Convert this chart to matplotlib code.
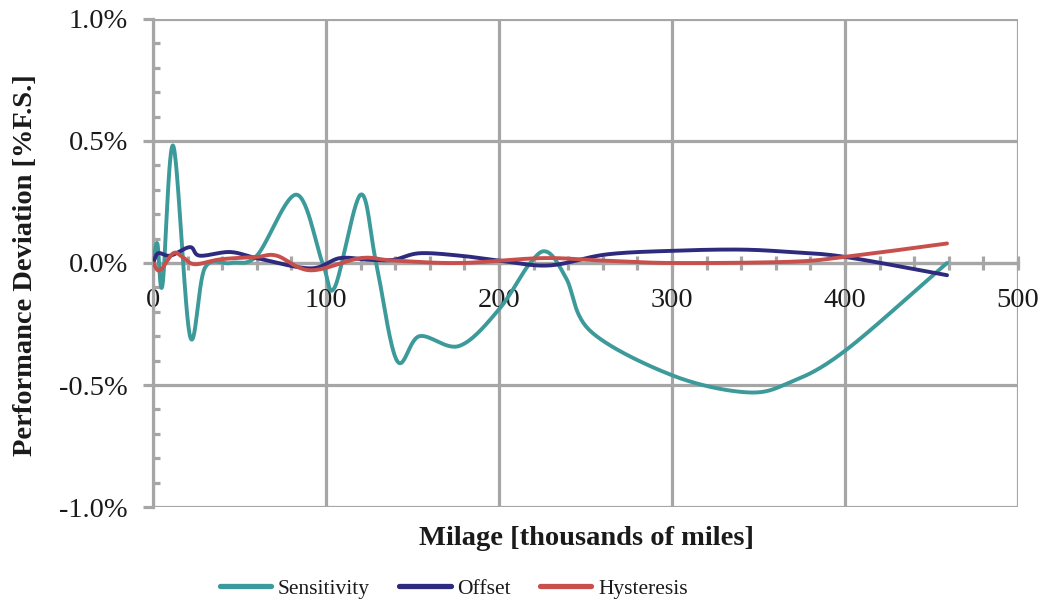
import numpy as np
import matplotlib
matplotlib.use("Agg")
import matplotlib.pyplot as plt
from matplotlib.ticker import MultipleLocator, FuncFormatter

# ---- data (mileage in thousands of miles, deviation in %F.S.) ----
sens_x = [0, 2.5, 5.5, 11.7, 21.4, 30, 45, 60, 83, 98, 105, 120, 129, 141, 154, 177, 200, 218, 228, 239, 253, 300, 343, 368, 400, 459]
sens_y = [0, 0.08, -0.09, 0.48, -0.30, -0.02, 0.0, 0.03, 0.28, 0.0, -0.10, 0.28, 0.0, -0.40, -0.30, -0.34, -0.19, 0.0, 0.045, -0.065, -0.28, -0.46, -0.53, -0.49, -0.36, 0.0]

off_x = [0, 3, 10, 21.4, 27, 44.5, 60, 91, 108, 125, 139, 154, 177.5, 200, 229, 262, 300, 339, 368, 400, 459]
off_y = [0, 0.04, 0.03, 0.065, 0.03, 0.045, 0.02, -0.022, 0.02, 0.013, 0.013, 0.04, 0.03, 0.01, -0.01, 0.035, 0.05, 0.055, 0.045, 0.025, -0.05]

hys_x = [0, 4, 11.7, 17, 24, 39, 60, 71.5, 91, 120, 139, 177.5, 225, 260, 300, 368, 400, 459]
hys_y = [0, -0.03, 0.04, 0.025, -0.005, 0.015, 0.025, 0.03, -0.03, 0.02, 0.01, 0.0, 0.02, 0.01, 0.0, 0.005, 0.025, 0.08]

series_names = ["Sensitivity", "Offset", "Hysteresis"]
series_colors = ["#3c9a9a", "#2e2a7e", "#c8504c"]

x_ticks = [0, 100, 200, 300, 400, 500]
y_ticks = [-1.0, -0.5, 0.0, 0.5, 1.0]


def smooth(x, y, n=30):
    """Excel-like smoothed line rendering (Catmull-Rom through the points)."""
    x = np.asarray(x, float)
    y = np.asarray(y, float)
    px = np.concatenate([[2 * x[0] - x[1]], x, [2 * x[-1] - x[-2]]])
    py = np.concatenate([[2 * y[0] - y[1]], y, [2 * y[-1] - y[-2]]])
    t = np.linspace(0, 1, n, endpoint=False)
    h00 = 2 * t**3 - 3 * t**2 + 1
    h10 = t**3 - 2 * t**2 + t
    h01 = -2 * t**3 + 3 * t**2
    h11 = t**3 - t**2
    ox, oy = [], []
    for i in range(1, len(px) - 2):
        for arr, out in ((px, ox), (py, oy)):
            p0, p1, p2, p3 = arr[i - 1], arr[i], arr[i + 1], arr[i + 2]
            m1 = (p2 - p0) / 2
            m2 = (p3 - p1) / 2
            out.extend(h00 * p1 + h10 * m1 + h01 * p2 + h11 * m2)
    ox.append(x[-1])
    oy.append(y[-1])
    return np.array(ox), np.array(oy)


plt.rcParams['font.family'] = ['Liberation Serif', 'DejaVu Serif']

fig = plt.figure(figsize=(10.43, 6.03), dpi=100)
ax = fig.add_axes([0.1467, 0.1592, 0.976 - 0.1467, 0.9685 - 0.1592])

grid_c = "#a6a6a6"
lw_grid = 2.3
txt_c = "#1a1a1a"

for (sx, sy), name, c in zip([(sens_x, sens_y), (off_x, off_y), (hys_x, hys_y)], series_names, series_colors):
    xs, ys = smooth(sx, sy)
    ax.plot(xs, ys, color=c, lw=2.8, label=name, solid_capstyle='round', zorder=3)

ax.set_xlim(0, 500)
ax.set_ylim(-1.0, 1.0)
ax.set_xticks(x_ticks)
ax.set_yticks(y_ticks)
ax.xaxis.set_minor_locator(MultipleLocator(20))
ax.yaxis.set_minor_locator(MultipleLocator(0.1))
ax.yaxis.set_major_formatter(FuncFormatter(lambda v, p: f"{v:.1f}%"))

ax.grid(True, which='major', color=grid_c, lw=lw_grid, zorder=1)
ax.set_axisbelow(True)

for s in ['top', 'right']:
    ax.spines[s].set_visible(False)
ax.spines['left'].set_color(grid_c)
ax.spines['left'].set_linewidth(lw_grid)
ax.spines['bottom'].set_position(('data', 0))
ax.spines['bottom'].set_color(grid_c)
ax.spines['bottom'].set_linewidth(lw_grid)

ax.tick_params(axis='y', which='major', direction='out', length=7, width=lw_grid, color=grid_c,
               labelsize=20.5, pad=11, labelcolor=txt_c)
ax.tick_params(axis='y', which='minor', direction='in', length=5, width=lw_grid, color=grid_c)
ax.tick_params(axis='x', which='major', direction='inout', length=10, width=lw_grid, color=grid_c,
               labelsize=20.5, pad=13, labelcolor=txt_c)
ax.tick_params(axis='x', which='minor', direction='inout', length=10, width=lw_grid, color=grid_c)

fig.text(0.562, 0.107, "Milage [thousands of miles]", ha='center', va='center',
         fontsize=20.5, fontweight='bold', color=txt_c)
fig.text(0.024, 0.56, "Performance Deviation [%F.S.]", ha='center', va='center',
         fontsize=20.5, fontweight='bold', rotation=90, color=txt_c)

leg = fig.legend(loc='center', bbox_to_anchor=(0.435, 0.024), ncol=3, frameon=False,
                 fontsize=15.5, handlelength=2.4, handletextpad=0.3, columnspacing=1.35)
for t in leg.get_texts():
    t.set_color(txt_c)
for h in leg.get_lines():
    h.set_linewidth(3.8)

fig.savefig("out.png", dpi=100, facecolor='white')
